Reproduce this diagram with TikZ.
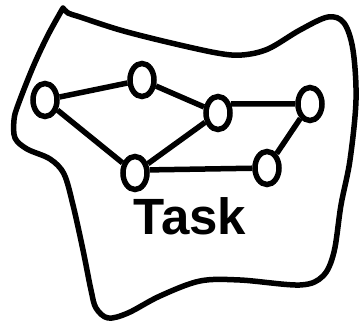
\documentclass[tikz,border=0pt]{standalone}
\usepackage{fontspec}
\setmainfont{Liberation Sans}
\usetikzlibrary{shapes.geometric}
\tikzset{
  vert/.style={draw, ellipse, line width=5.5pt, minimum width=24pt, minimum height=33pt, inner sep=0pt, fill=white},
  link/.style={line width=5.5pt},
  blob/.style={line width=5.5pt, line join=round, line cap=round}
}
\begin{document}
\begin{tikzpicture}[x=1pt,y=-1pt]
\useasboundingbox (0,0) rectangle (360,323);
\draw[blob] plot[smooth, tension=0.55] coordinates {
 (63,8) (68,13) (80,17) (120,30) (167,42) (217,53) (242,55) (268,49) (300,30) (328,17)
 (344,23) (353,50) (356,100) (350,160) (341,205) (334,252) (323,276) (300,285)
 (240,280) (200,281) (160,296) (128,313) (108,318) (96,308) (91,290) (83,250) (73,205)
 (64,174) (50,159) (27,149) (15,138) (14,120) (18,105) (33,67) (48,35) (63,8)};
\node[vert] (a) at (45,100) {};
\node[vert] (b) at (142,80) {};
\node[vert] (c) at (218,113) {};
\node[vert] (d) at (310,104) {};
\node[vert] (e) at (135,173) {};
\node[vert] (f) at (267,168) {};
\draw[link] (a) -- (b);
\draw[link] (b) -- (c);
\draw[link] (a) -- (e);
\draw[link] (e) -- (c);
\draw[link] (c.35) -- (d);
\draw[link] (d) -- (f);
\draw[link] (e.12) -- (f);
\node[anchor=base, inner sep=0pt, font=\fontsize{51pt}{51pt}\selectfont\bfseries] (t) at (190,235) {Task};
\end{tikzpicture}
\end{document}
